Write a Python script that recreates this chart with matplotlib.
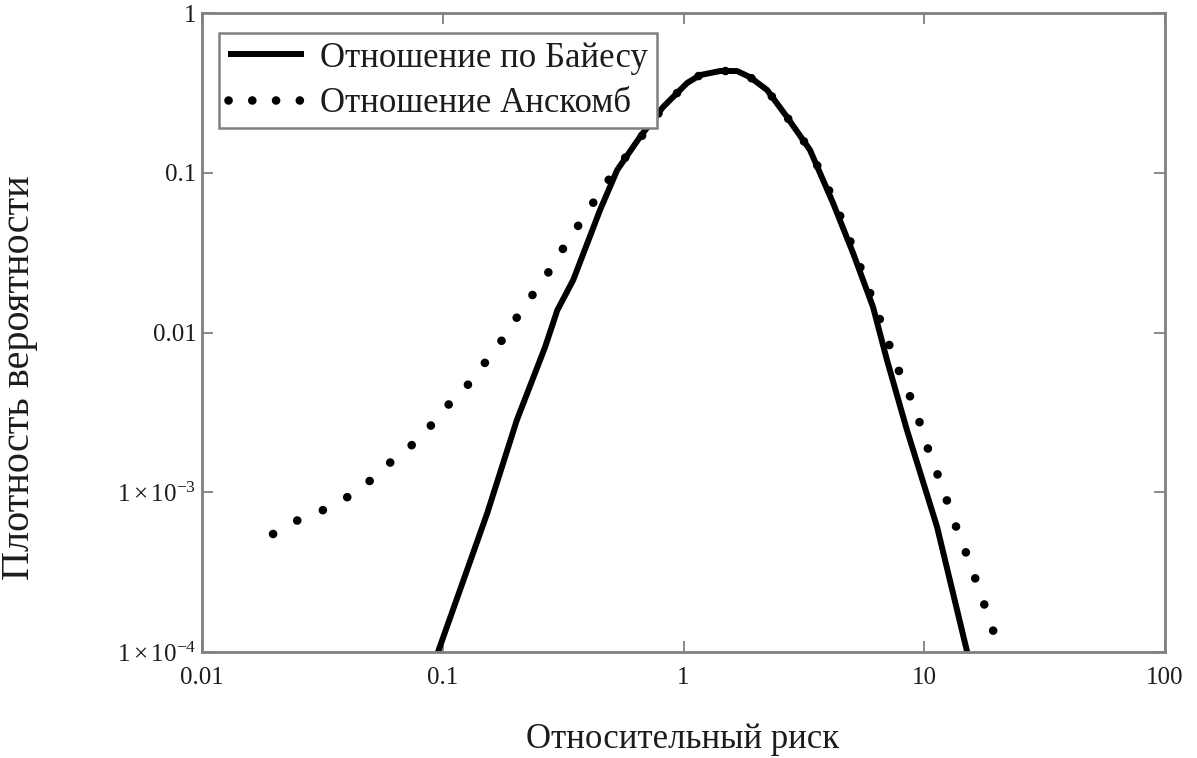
import matplotlib
matplotlib.use("Agg")
import matplotlib.pyplot as plt
from matplotlib.ticker import FixedLocator, FixedFormatter, NullLocator

plt.rcParams['font.family'] = ['Liberation Serif', 'DejaVu Serif']
plt.rcParams['mathtext.fontset'] = 'custom'
plt.rcParams['mathtext.rm'] = 'Liberation Serif'
plt.rcParams['mathtext.it'] = 'Liberation Serif:italic'
plt.rcParams['mathtext.bf'] = 'Liberation Serif:bold'

# Bayes ratio (solid)
bayes_x = [0.0955, 0.153, 0.203, 0.266, 0.299, 0.348, 0.450, 0.530, 0.659, 0.822,
           1.035, 1.172, 1.419, 1.667, 1.888, 2.223, 2.692, 3.350, 4.178, 5.058,
           6.124, 6.998, 8.472, 11.30, 15.07]
bayes_y = [1.0e-4, 7.41e-4, 2.83e-3, 8.11e-3, 1.38e-2, 2.13e-2, 5.85e-2, 0.104, 0.1675, 0.258,
           0.365, 0.409, 0.4335, 0.4335, 0.397, 0.330, 0.223, 0.139, 6.47e-2, 3.15e-2,
           1.445e-2, 6.73e-3, 2.45e-3, 6.07e-4, 1.0e-4]

# Anscombe ratio (dotted)
ansc_x = [0.01972, 0.02506, 0.03184, 0.03963, 0.05035, 0.06339, 0.08204, 0.0984, 0.125, 0.1483,
          0.1762, 0.2075, 0.2438, 0.2844, 0.3281, 0.3864, 0.4498, 0.5297, 0.6295, 0.7261,
          0.822, 1.035, 1.172, 1.419, 1.667, 1.888, 2.223, 2.692, 3.350, 4.256,
          5.152, 5.957, 6.745, 7.780, 9.162, 10.26, 11.75, 13.43, 15.35, 17.38, 19.86]
ansc_y = [5.48e-4, 6.70e-4, 7.74e-4, 9.20e-4, 1.194e-3, 1.637e-3, 2.218e-3, 3.177e-3, 4.56e-3, 6.35e-3,
          8.97e-3, 1.306e-2, 1.845e-2, 2.57e-2, 3.69e-2, 5.28e-2, 7.57e-2, 0.1072, 0.1493, 0.199,
          0.258, 0.365, 0.409, 0.4335, 0.4335, 0.397, 0.330, 0.223, 0.139, 6.47e-2,
          3.15e-2, 1.766e-2, 1.067e-2, 5.92e-3, 3.365e-3, 1.945e-3, 1.127e-3, 6.32e-4, 3.72e-4, 2.18e-4, 1.205e-4]

xticks = [0.01, 0.1, 1, 10, 100]
xticklabels = ['0.01', '0.1', '1', '10', '100']
yticks = [1e-4, 1e-3, 0.01, 0.1, 1]
yticklabels = [r'$1\times10^{-4}$', r'$1\times10^{-3}$', '0.01', '0.1', '1']

txt = '#1c1c1c'
frame = '#808080'

fig = plt.figure(figsize=(11.97, 7.58), dpi=100)
ax = fig.add_axes([0.1688, 0.1398, 0.8045, 0.843])

ax.plot(bayes_x, bayes_y, color='black', lw=4.3, solid_capstyle='butt',
        label='Отношение по Байесу')
ax.plot(ansc_x, ansc_y, color='black', lw=6.2, linestyle=(0, (0.01, 3.2)),
        dash_capstyle='round', label='Отношение Анскомб')

ax.set_xscale('log')
ax.set_yscale('log')
ax.set_xlim(0.01, 100)
ax.set_ylim(1e-4, 1)

ax.xaxis.set_major_locator(FixedLocator(xticks))
ax.xaxis.set_major_formatter(FixedFormatter(xticklabels))
ax.yaxis.set_major_locator(FixedLocator(yticks))
ax.yaxis.set_major_formatter(FixedFormatter(yticklabels))
ax.xaxis.set_minor_locator(NullLocator())
ax.yaxis.set_minor_locator(NullLocator())

ax.tick_params(which='major', direction='in', length=8, width=1.3, color=frame,
               top=True, right=True, labelsize=18, labelcolor=txt)
ax.tick_params(axis='x', pad=11)
ax.tick_params(axis='y', pad=4)
for s in ax.spines.values():
    s.set_color(frame)
    s.set_linewidth(2)

leg = ax.legend(loc='upper left', bbox_to_anchor=(0.018, 0.969), fontsize=25,
                frameon=True, fancybox=False, framealpha=1, edgecolor=frame,
                handlelength=2.2, handletextpad=0.45, borderpad=0.25,
                borderaxespad=0, labelspacing=0.35)
leg.get_frame().set_linewidth(1.8)
leg.get_lines()[1].set_linestyle((0, (0.01, 2.75)))
for t in leg.get_texts():
    t.set_color(txt)

fig.text(683 / 1197, 1 - 739 / 758, 'Относительный риск', ha='center', va='center',
         fontsize=25, color=txt)
fig.text(20 / 1197, 1 - 378 / 758, 'Плотность вероятности', ha='center', va='center',
         rotation=90, fontsize=29, color=txt)

fig.savefig('out.png', dpi=100)
